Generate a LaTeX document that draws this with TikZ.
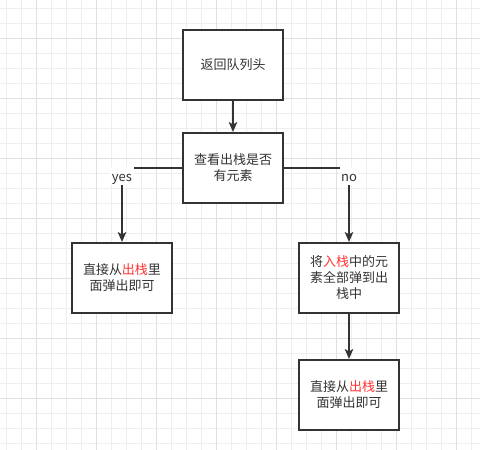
\documentclass[tikz,border=0pt]{standalone}
\usepackage{fontspec}
\setmainfont{Noto Sans CJK SC}
\usetikzlibrary{arrows.meta,positioning}
\definecolor{inkgray}{HTML}{333333}
\definecolor{markred}{HTML}{FF3333}
\definecolor{gridminor}{HTML}{EEEEEE}
\definecolor{gridmajor}{HTML}{E0E0E0}
\newcommand{\hl}[1]{\textcolor{markred}{#1}}

\begin{document}
\begin{tikzpicture}[x=1pt,y=1pt,->,>={Stealth[length=10pt,width=8.5pt,inset=2.5pt]},
                    line width=2pt,color=inkgray,node distance=103pt,
                    font=\fontsize{13}{16}\selectfont]
  \tikzstyle{box}=[draw=inkgray,fill=white,text=inkgray,minimum width=100pt,minimum height=70pt,align=center,inner sep=0pt]
  \tikzstyle{tag}=[fill=white,text=inkgray,inner xsep=1.5pt,inner ysep=0pt,text height=12pt,text depth=0pt,minimum height=18pt,yshift=-7.5pt]

  \useasboundingbox (0,0) rectangle (480,-450);
  % grid
  \fill[white] (0,0) rectangle (480,-450);
  \foreach \i in {0,...,31} \draw[-,line width=1pt,gridminor] (6.7+15*\i,0) -- (6.7+15*\i,-450);
  \foreach \j in {0,...,29} \draw[-,line width=1pt,gridminor] (0,-8.3-15*\j) -- (480,-8.3-15*\j);
  \foreach \i in {0,...,7} \draw[-,line width=1pt,gridmajor] (36.7+60*\i,0) -- (36.7+60*\i,-450);
  \foreach \j in {0,...,6} \draw[-,line width=1pt,gridmajor] (0,-38.3-60*\j) -- (480,-38.3-60*\j);

  \node[box] (H) at (233,-65) {返回队列头};
  \node[box] (Q) [below of=H] {查看出栈是否\\有元素};
  \node[box] (L) at (122,-278) {直接从\hl{出栈}里\\面弹出即可};
  \node[box] (M) at (349,-278) {将\hl{入栈}中的元\\素全部弹到出\\栈中};
  \node[box] (P) [below of=M, node distance=117pt] {直接从\hl{出栈}里\\面弹出即可};

  \path (H) edge (Q)
        (M) edge (P);
  \draw (Q) -| node[tag] {yes} (L);
  \draw (Q) -| node[tag] {no} (M);
\end{tikzpicture}
\end{document}
